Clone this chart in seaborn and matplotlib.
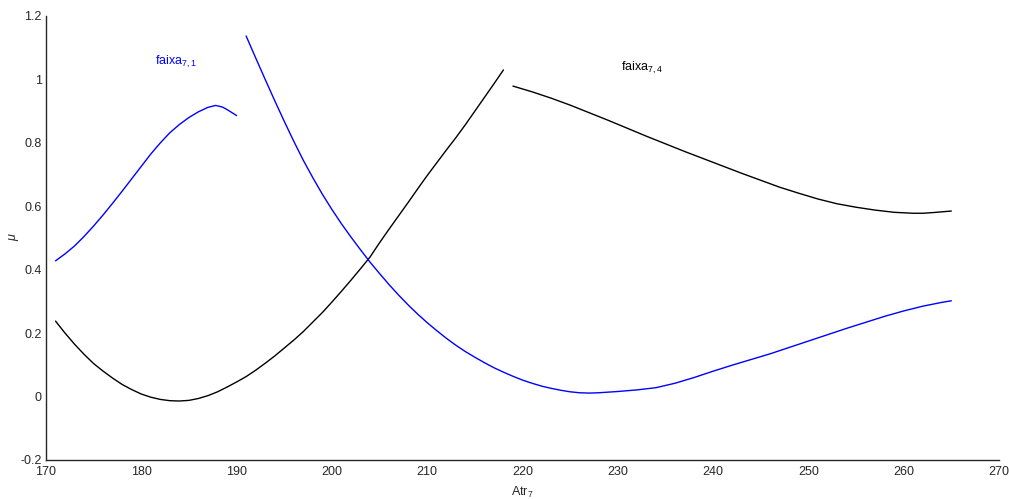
import matplotlib
matplotlib.use("Agg")
import matplotlib.pyplot as plt
import seaborn as sns
import pandas as pd

# ---- data ----
x_blue1 = [171, 172, 173, 174, 175, 176, 177, 178, 179, 180, 181, 182, 183, 184,
           185, 186, 187, 187.8, 188.5, 189, 190]
y_blue1 = [0.428, 0.45, 0.475, 0.505, 0.538, 0.573, 0.61, 0.648, 0.687, 0.726,
           0.765, 0.800, 0.832, 0.858, 0.88, 0.898, 0.912, 0.918, 0.913, 0.905, 0.886]

x_black1 = list(range(171, 219))
y_black1 = [0.238, 0.2, 0.165, 0.133, 0.104, 0.08, 0.058, 0.038, 0.022, 0.008,
            -0.002, -0.009, -0.013, -0.014, -0.012, -0.006, 0.003, 0.015, 0.03,
            0.046, 0.063, 0.083, 0.105, 0.128, 0.153, 0.178, 0.205, 0.235, 0.265,
            0.298, 0.332, 0.367, 0.403, 0.44, 0.485, 0.528, 0.57, 0.612, 0.655,
            0.697, 0.737, 0.777, 0.816, 0.857, 0.9, 0.943, 0.986, 1.03]

x_blue2 = [191, 192, 193, 194, 195, 196, 197, 198, 199, 200, 201, 202, 203, 204,
           205, 206, 207, 208, 209, 210, 211, 212, 213, 214, 215, 216, 217, 218,
           219, 220, 221, 222, 223, 224, 225, 226, 227, 228, 230, 232, 234, 236,
           238, 240, 242, 244, 246, 248, 250, 252, 254, 256, 258, 260, 262, 264, 265]
y_blue2 = [1.137, 1.068, 1.0, 0.933, 0.868, 0.805, 0.745, 0.69, 0.638, 0.59,
           0.545, 0.503, 0.463, 0.424, 0.388, 0.353, 0.32, 0.289, 0.26, 0.233,
           0.208, 0.184, 0.162, 0.142, 0.124, 0.107, 0.091, 0.077, 0.064, 0.052,
           0.042, 0.033, 0.026, 0.02, 0.015, 0.012, 0.011, 0.012, 0.016, 0.021,
           0.028, 0.042, 0.06, 0.08, 0.099, 0.117, 0.135, 0.155, 0.175, 0.195,
           0.215, 0.234, 0.253, 0.27, 0.285, 0.297, 0.302]

x_black2 = [219, 221, 223, 225, 227, 229, 231, 233, 235, 237, 239, 241, 243, 245,
            247, 249, 251, 253, 255, 257, 259, 261, 262, 263, 265]
y_black2 = [0.979, 0.961, 0.941, 0.919, 0.895, 0.871, 0.846, 0.821, 0.797, 0.773,
            0.75, 0.727, 0.704, 0.682, 0.66, 0.641, 0.623, 0.608, 0.597, 0.588,
            0.581, 0.578, 0.578, 0.58, 0.585]

x_ticks = [170, 180, 190, 200, 210, 220, 230, 240, 250, 260, 270]
y_ticks = [-0.2, 0, 0.2, 0.4, 0.6, 0.8, 1.0, 1.2]
y_tick_labels = ["-0.2", "0", "0.2", "0.4", "0.6", "0.8", "1", "1.2"]

label_71 = "faixa$_{7,1}$"
label_74 = "faixa$_{7,4}$"

# ---- style ----
sns.set_style("white")
plt.rcParams['font.family'] = ['Liberation Sans', 'DejaVu Sans']
plt.rcParams['mathtext.default'] = 'regular'

fig = plt.figure(figsize=(10.09, 4.99), dpi=100)
ax = fig.add_axes([46 / 1009, 1 - 460 / 499, (999 - 46) / 1009, (460 - 16) / 499])

segments = [
    (x_blue1, y_blue1, "#0000ff"),
    (x_black1, y_black1, "#000000"),
    (x_blue2, y_blue2, "#0000ff"),
    (x_black2, y_black2, "#000000"),
]
for xs, ys, c in segments:
    df = pd.DataFrame({"x": xs, "y": ys})
    sns.lineplot(data=df, x="x", y="y", ax=ax, color=c, linewidth=1.0,
                 estimator=None, sort=False)

ax.set_xlim(170, 270)
ax.set_ylim(-0.2, 1.2)
ax.set_xticks(x_ticks)
ax.set_xticklabels([str(t) for t in x_ticks])
ax.set_yticks(y_ticks)
ax.set_yticklabels(y_tick_labels)

for s in ["top", "right"]:
    ax.spines[s].set_visible(False)
for s in ["left", "bottom"]:
    ax.spines[s].set_color("#262626")
    ax.spines[s].set_linewidth(1.0)

ax.tick_params(axis="both", direction="in", length=7, width=0.8,
               colors="#262626", labelsize=9, labelcolor="#262626")
ax.tick_params(axis="x", pad=4)
ax.tick_params(axis="y", pad=3)

ax.set_xlabel("Atr$_7$", fontsize=9, labelpad=5)
ax.set_ylabel("μ", fontsize=9, fontstyle="italic")
ax.yaxis.set_label_coords(-0.028, 0.5)

ax.text(181.4, 1.055, label_71, color="#0000ff", fontsize=9, va="center", ha="left")
ax.text(230.3, 1.036, label_74, color="#000000", fontsize=9, va="center", ha="left")

fig.savefig("out.png", dpi=100)
